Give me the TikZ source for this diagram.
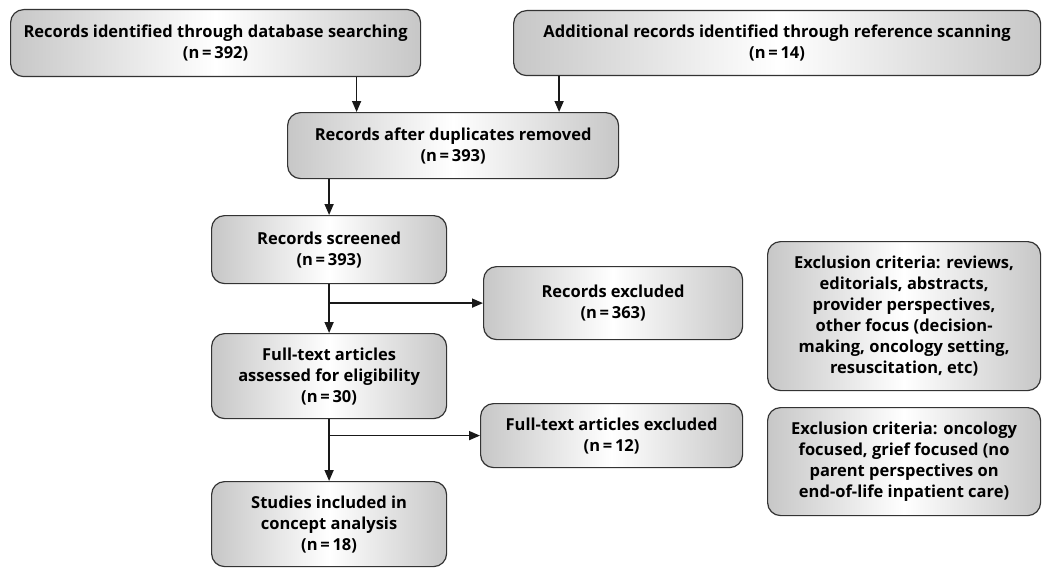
\documentclass[tikz,border=0pt]{standalone}
\usepackage{fontspec}
\setmainfont{Open Sans}
\usetikzlibrary{arrows.meta}

\tikzset{
  flowbox/.style={draw=black!80, line width=1.2pt, rounded corners=13pt,
    left color=black!22, right color=black!22, middle color=white,
    anchor=north west, align=center, inner sep=0pt,
    font=\bfseries\fontsize{16.5}{21}\selectfont},
  flowarrow/.style={-{Triangle[length=11pt,width=9pt]}, line width=1.6pt, black!90}
}

\begin{document}
\begin{tikzpicture}[x=1pt,y=-1pt]
  \useasboundingbox (0,0) rectangle (1050,578);

% identification
  \node[flowbox, minimum width=410, minimum height=67] (dbsearch) at (10,9)
    {Records identified through database searching\\(n\,=\,392)};
  \node[flowbox, minimum width=527, minimum height=65] (refscan) at (513,10)
    {Additional records identified through reference scanning\\(n\,=\,14)};
  \node[flowbox, minimum width=331, minimum height=66] (dedup) at (287,112)
    {Records after duplicates removed\\(n\,=\,393)};

% screening and eligibility
  \node[flowbox, minimum width=235, minimum height=68] (screened) at (211,215)
    {Records screened\\(n\,=\,393)};
  \node[flowbox, minimum width=259, minimum height=73] (recexcl) at (483,266)
    {Records excluded\\(n\,=\,363)};
  \node[flowbox, minimum width=235, minimum height=85] (fulltext) at (211,333)
    {Full-text articles\\assessed for eligibility\\(n\,=\,30)};
  \node[flowbox, minimum width=262, minimum height=64] (ftexcl) at (480,403)
    {Full-text articles excluded\\(n\,=\,12)};
  \node[flowbox, minimum width=235, minimum height=85] (included) at (211,481)
    {Studies included in\\concept analysis\\(n\,=\,18)};

% exclusion criteria
  \node[flowbox, minimum width=273, minimum height=149] (crit1) at (767,241)
    {Exclusion criteria: reviews,\\editorials, abstracts,\\provider perspectives,\\other focus (decision-\\making, oncology setting,\\resuscitation, etc)};
  \node[flowbox, minimum width=273, minimum height=108] (crit2) at (767,407)
    {Exclusion criteria: oncology\\focused, grief focused (no\\parent perspectives on\\end-of-life inpatient care)};

% arrows
  \draw[flowarrow] ([xshift=141pt]dbsearch.south) -- ([xshift=141pt]dbsearch.south |- dedup.north);
  \draw[flowarrow] ([xshift=-218pt]refscan.south) -- ([xshift=-218pt]refscan.south |- dedup.north);
  \draw[flowarrow] (screened.north |- dedup.south) -- (screened.north);
  \draw[flowarrow] (screened.south) -- (fulltext.north);
  \draw[flowarrow] (screened.south |- recexcl.west) -- (recexcl.west);
  \draw[flowarrow] (fulltext.south) -- (included.north);
  \draw[flowarrow] (fulltext.south |- ftexcl.west) -- (ftexcl.west);
\end{tikzpicture}
\end{document}
